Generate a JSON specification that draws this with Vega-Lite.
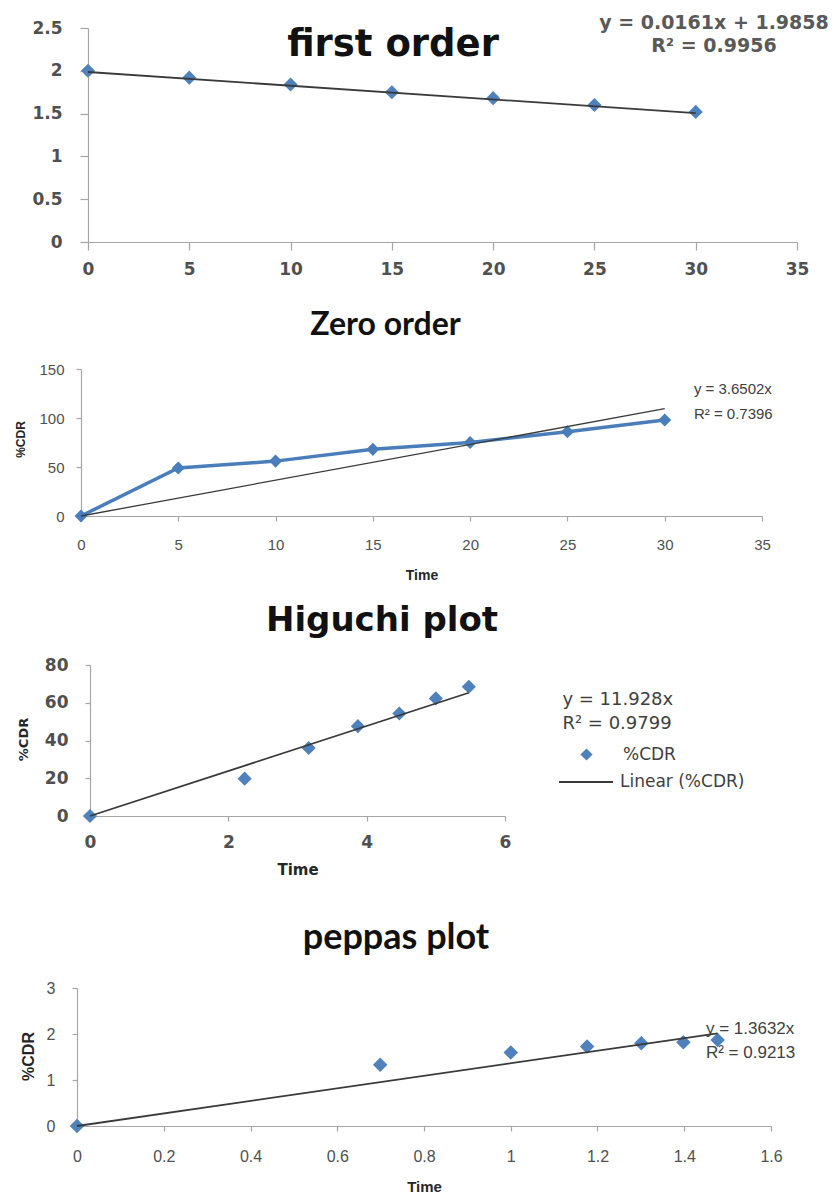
{
  "$schema": "https://vega.github.io/schema/vega-lite/v6.json",
  "background": "white",
  "padding": {"left": 10, "top": 13, "right": 0, "bottom": 0},
  "columns": 1,
  "spacing": 22,
  "resolve": {
    "scale": {"shape": "independent", "color": "independent"},
    "legend": {"shape": "independent", "color": "independent"}
  },
  "config": {
    "view": {"stroke": null},
    "axis": {"grid": false, "labelFlush": false, "domainColor": "#a6a6a6", "tickColor": "#a6a6a6", "labelColor": "#505050", "titleColor": "#262626", "domainWidth": 1.2, "tickWidth": 1.2}
  },
  "datasets": {
    "first": [
      {"x": 0, "y": 2.0}, {"x": 5, "y": 1.92}, {"x": 10, "y": 1.84}, {"x": 15, "y": 1.75},
      {"x": 20, "y": 1.68}, {"x": 25, "y": 1.6}, {"x": 30, "y": 1.52}
    ],
    "first_fit": [{"x": 0, "y": 1.986}, {"x": 30, "y": 1.505}],
    "first_eq": [
      {"x": 30.9, "y": 2.56, "label": "y = 0.0161x + 1.9858"},
      {"x": 30.9, "y": 2.29, "label": "R² = 0.9956"}
    ],
    "zero": [
      {"x": 0, "y": 0}, {"x": 5, "y": 49}, {"x": 10, "y": 56}, {"x": 15, "y": 68},
      {"x": 20, "y": 75}, {"x": 25, "y": 86}, {"x": 30, "y": 98}
    ],
    "zero_fit": [{"x": 0, "y": 0}, {"x": 30, "y": 109.5}],
    "zero_eq": [
      {"x": 31.5, "y": 129.6, "label": "y = 3.6502x"},
      {"x": 31.5, "y": 104, "label": "R² = 0.7396"}
    ],
    "higuchi": [
      {"x": 0, "y": 0, "series": "%CDR"}, {"x": 2.236, "y": 19.8, "series": "%CDR"},
      {"x": 3.162, "y": 36, "series": "%CDR"}, {"x": 3.873, "y": 47.6, "series": "%CDR"},
      {"x": 4.472, "y": 54.3, "series": "%CDR"}, {"x": 5, "y": 62.3, "series": "%CDR"},
      {"x": 5.477, "y": 68.5, "series": "%CDR"}
    ],
    "higuchi_fit": [{"x": 0, "y": 0, "series": "Linear (%CDR)"}, {"x": 5.477, "y": 65.3, "series": "Linear (%CDR)"}],
    "higuchi_eq": [
      {"x": 6.83, "y": 61.5, "label": "y = 11.928x"},
      {"x": 6.83, "y": 48.7, "label": "R² = 0.9799"}
    ],
    "peppas": [
      {"x": 0, "y": 0}, {"x": 0.699, "y": 1.33}, {"x": 1.0, "y": 1.6}, {"x": 1.176, "y": 1.73},
      {"x": 1.301, "y": 1.8}, {"x": 1.398, "y": 1.82}, {"x": 1.477, "y": 1.87}
    ],
    "peppas_fit": [{"x": 0, "y": 0}, {"x": 1.477, "y": 2.013}],
    "peppas_eq": [
      {"x": 1.45, "y": 2.1, "label": "y = 1.3632x"},
      {"x": 1.45, "y": 1.58, "label": "R² = 0.9213"}
    ]
  },
  "concat": [
    {
      "width": 720,
      "height": 214,
      "title": {"text": "first order", "font": "DejaVu Sans", "fontSize": 37, "fontWeight": "bold", "color": "#111111", "frame": "group", "anchor": "middle", "baseline": "middle", "offset": -68, "dx": -44},
      "encoding": {
        "x": {"field": "x", "type": "quantitative", "scale": {"domain": [0, 35], "nice": false, "range": [11, 720]},
          "axis": {"values": [0, 5, 10, 15, 20, 25, 30, 35], "format": "~g", "labelFont": "DejaVu Sans", "labelFontSize": 17, "labelFontWeight": "bold", "labelPadding": 11, "tickSize": 8, "title": " ", "titleColor": "transparent", "titleFontSize": 10, "titlePadding": 0}},
        "y": {"field": "y", "type": "quantitative", "scale": {"domain": [0, 2.5], "nice": false},
          "axis": {"offset": -11, "values": [0, 0.5, 1, 1.5, 2, 2.5], "format": "~g", "labelFont": "DejaVu Sans", "labelFontSize": 17, "labelFontWeight": "bold", "labelPadding": 18, "tickSize": 8, "title": null, "minExtent": 0}}
      },
      "layer": [
        {"data": {"name": "first"}, "mark": {"type": "point", "shape": "diamond", "filled": true, "color": "#4F81BD", "opacity": 1, "size": 200}},
        {"data": {"name": "first_fit"}, "mark": {"type": "line", "color": "#3a3a3a", "strokeWidth": 1.8}},
        {"data": {"name": "first_eq"}, "mark": {"type": "text", "font": "DejaVu Sans", "fontWeight": "bold", "fontSize": 19, "color": "#595959", "align": "center", "baseline": "middle"},
          "encoding": {"text": {"field": "label", "type": "nominal"}}}
      ]
    },
    {
      "width": 685,
      "height": 147,
      "title": {"text": "Zero order", "font": "Lato", "fontSize": 32, "fontWeight": "bold", "color": "#111111", "frame": "group", "anchor": "middle", "baseline": "middle", "offset": 5, "dx": -34},
      "encoding": {
        "x": {"field": "x", "type": "quantitative", "scale": {"domain": [0, 35], "nice": false, "range": [4, 685]},
          "axis": {"values": [0, 5, 10, 15, 20, 25, 30, 35], "format": "~g", "labelFont": "Liberation Sans", "labelFontSize": 15, "labelPadding": 16, "tickSize": 5, "title": "Time", "titleFont": "Liberation Sans", "titleFontSize": 14, "titleFontWeight": "bold", "titlePadding": 16}},
        "y": {"field": "y", "type": "quantitative", "scale": {"domain": [0, 150], "nice": false},
          "axis": {"offset": -4, "values": [0, 50, 100, 150], "labelFont": "Liberation Sans", "labelFontSize": 15, "labelPadding": 12, "tickSize": 5, "title": "%CDR", "titleFont": "Liberation Sans", "titleFontSize": 12, "titleFontWeight": "bold", "titleAngle": 270, "titleAlign": "center", "titleBaseline": "middle", "titleX": -61, "titleY": 70, "minExtent": 0}}
      },
      "layer": [
        {"data": {"name": "zero"}, "mark": {"type": "line", "color": "#4A7EBB", "strokeWidth": 3.5}},
        {"data": {"name": "zero"}, "mark": {"type": "point", "shape": "diamond", "filled": true, "color": "#4A7EBB", "opacity": 1, "size": 170}},
        {"data": {"name": "zero_fit"}, "mark": {"type": "line", "color": "#3a3a3a", "strokeWidth": 1.3}},
        {"data": {"name": "zero_eq"}, "mark": {"type": "text", "font": "Liberation Sans", "fontSize": 15, "color": "#404040", "align": "left", "baseline": "middle"},
          "encoding": {"text": {"field": "label", "type": "nominal"}}}
      ]
    },
    {
      "width": 428,
      "height": 151,
      "title": {"text": "Higuchi plot", "font": "DejaVu Sans", "fontSize": 34, "fontWeight": "bold", "color": "#111111", "frame": "group", "anchor": "middle", "baseline": "middle", "offset": 1, "dx": 91},
      "encoding": {
        "x": {"field": "x", "type": "quantitative", "scale": {"domain": [0, 6], "nice": false, "range": [13, 428]},
          "axis": {"values": [0, 2, 4, 6], "labelFont": "DejaVu Sans", "labelFontSize": 17, "labelFontWeight": "bold", "labelPadding": 13, "tickSize": 5, "title": ["Time", " "], "titleLineHeight": 21, "titleFont": "DejaVu Sans", "titleFontSize": 15, "titleFontWeight": "bold", "titlePadding": 12}},
        "y": {"field": "y", "type": "quantitative", "scale": {"domain": [0, 80], "nice": false},
          "axis": {"offset": -13, "values": [0, 20, 40, 60, 80], "labelFont": "DejaVu Sans", "labelFontSize": 17, "labelFontWeight": "bold", "labelPadding": 17, "tickSize": 5, "title": "%CDR", "titleFont": "DejaVu Sans", "titleFontSize": 13, "titleFontWeight": "bold", "titleAngle": 270, "titleAlign": "center", "titleBaseline": "middle", "titleX": -67, "titleY": 74, "minExtent": 0}}
      },
      "layer": [
        {"data": {"name": "higuchi"}, "mark": {"type": "point", "filled": true, "color": "#4F81BD", "opacity": 1, "size": 200},
          "encoding": {"shape": {"field": "series", "type": "nominal",
            "scale": {"domain": ["%CDR"], "range": ["diamond"]},
            "legend": {"orient": "none", "legendX": 501, "legendY": 81, "title": null, "padding": 0,
              "labelFont": "DejaVu Sans", "labelFontSize": 17, "labelColor": "#404040", "symbolSize": 150, "symbolFillColor": "#4F81BD", "symbolStrokeWidth": 0, "labelOffset": 28}}}},
        {"data": {"name": "higuchi_fit"}, "mark": {"type": "line", "strokeWidth": 1.8},
          "encoding": {"color": {"field": "series", "type": "nominal",
            "scale": {"domain": ["Linear (%CDR)"], "range": ["#3a3a3a"]},
            "legend": {"orient": "none", "legendX": 481, "legendY": 89, "title": null, "padding": 0,
              "labelFont": "DejaVu Sans", "labelFontSize": 17, "labelColor": "#404040", "symbolSize": 2916, "symbolStrokeWidth": 2, "labelOffset": 6}}}},
        {"data": {"name": "higuchi_eq"}, "mark": {"type": "text", "font": "DejaVu Sans", "fontSize": 18, "color": "#404040", "align": "left", "baseline": "middle"},
          "encoding": {"text": {"field": "label", "type": "nominal"}}}
      ]
    },
    {
      "width": 694,
      "height": 138,
      "title": {"text": "peppas plot", "font": "Lato", "fontSize": 36, "fontWeight": "bold", "color": "#111111", "frame": "group", "anchor": "middle", "baseline": "middle", "offset": 6, "dx": -28},
      "encoding": {
        "x": {"field": "x", "type": "quantitative", "scale": {"domain": [0, 1.6], "nice": false},
          "axis": {"values": [0, 0.2, 0.4, 0.6, 0.8, 1, 1.2, 1.4, 1.6], "format": "~g", "labelFont": "Liberation Sans", "labelFontSize": 16, "labelPadding": 17, "tickSize": 5, "title": "Time", "titleFont": "Liberation Sans", "titleFontSize": 15, "titleFontWeight": "bold", "titlePadding": 15}},
        "y": {"field": "y", "type": "quantitative", "scale": {"domain": [0, 3], "nice": false},
          "axis": {"values": [0, 1, 2, 3], "labelFont": "Liberation Sans", "labelFontSize": 16, "labelPadding": 17, "tickSize": 5, "title": "%CDR", "titleFont": "Liberation Sans", "titleFontSize": 16, "titleFontWeight": "bold", "titleAngle": 270, "titleAlign": "center", "titleBaseline": "middle", "titleX": -49, "titleY": 68, "minExtent": 67, "maxExtent": 67}}
      },
      "layer": [
        {"data": {"name": "peppas"}, "mark": {"type": "point", "shape": "diamond", "filled": true, "color": "#4F81BD", "opacity": 1, "size": 210}},
        {"data": {"name": "peppas_fit"}, "mark": {"type": "line", "color": "#3a3a3a", "strokeWidth": 1.8}},
        {"data": {"name": "peppas_eq"}, "mark": {"type": "text", "font": "Liberation Sans", "fontSize": 17, "color": "#404040", "align": "left", "baseline": "middle"},
          "encoding": {"text": {"field": "label", "type": "nominal"}}}
      ]
    }
  ]
}
